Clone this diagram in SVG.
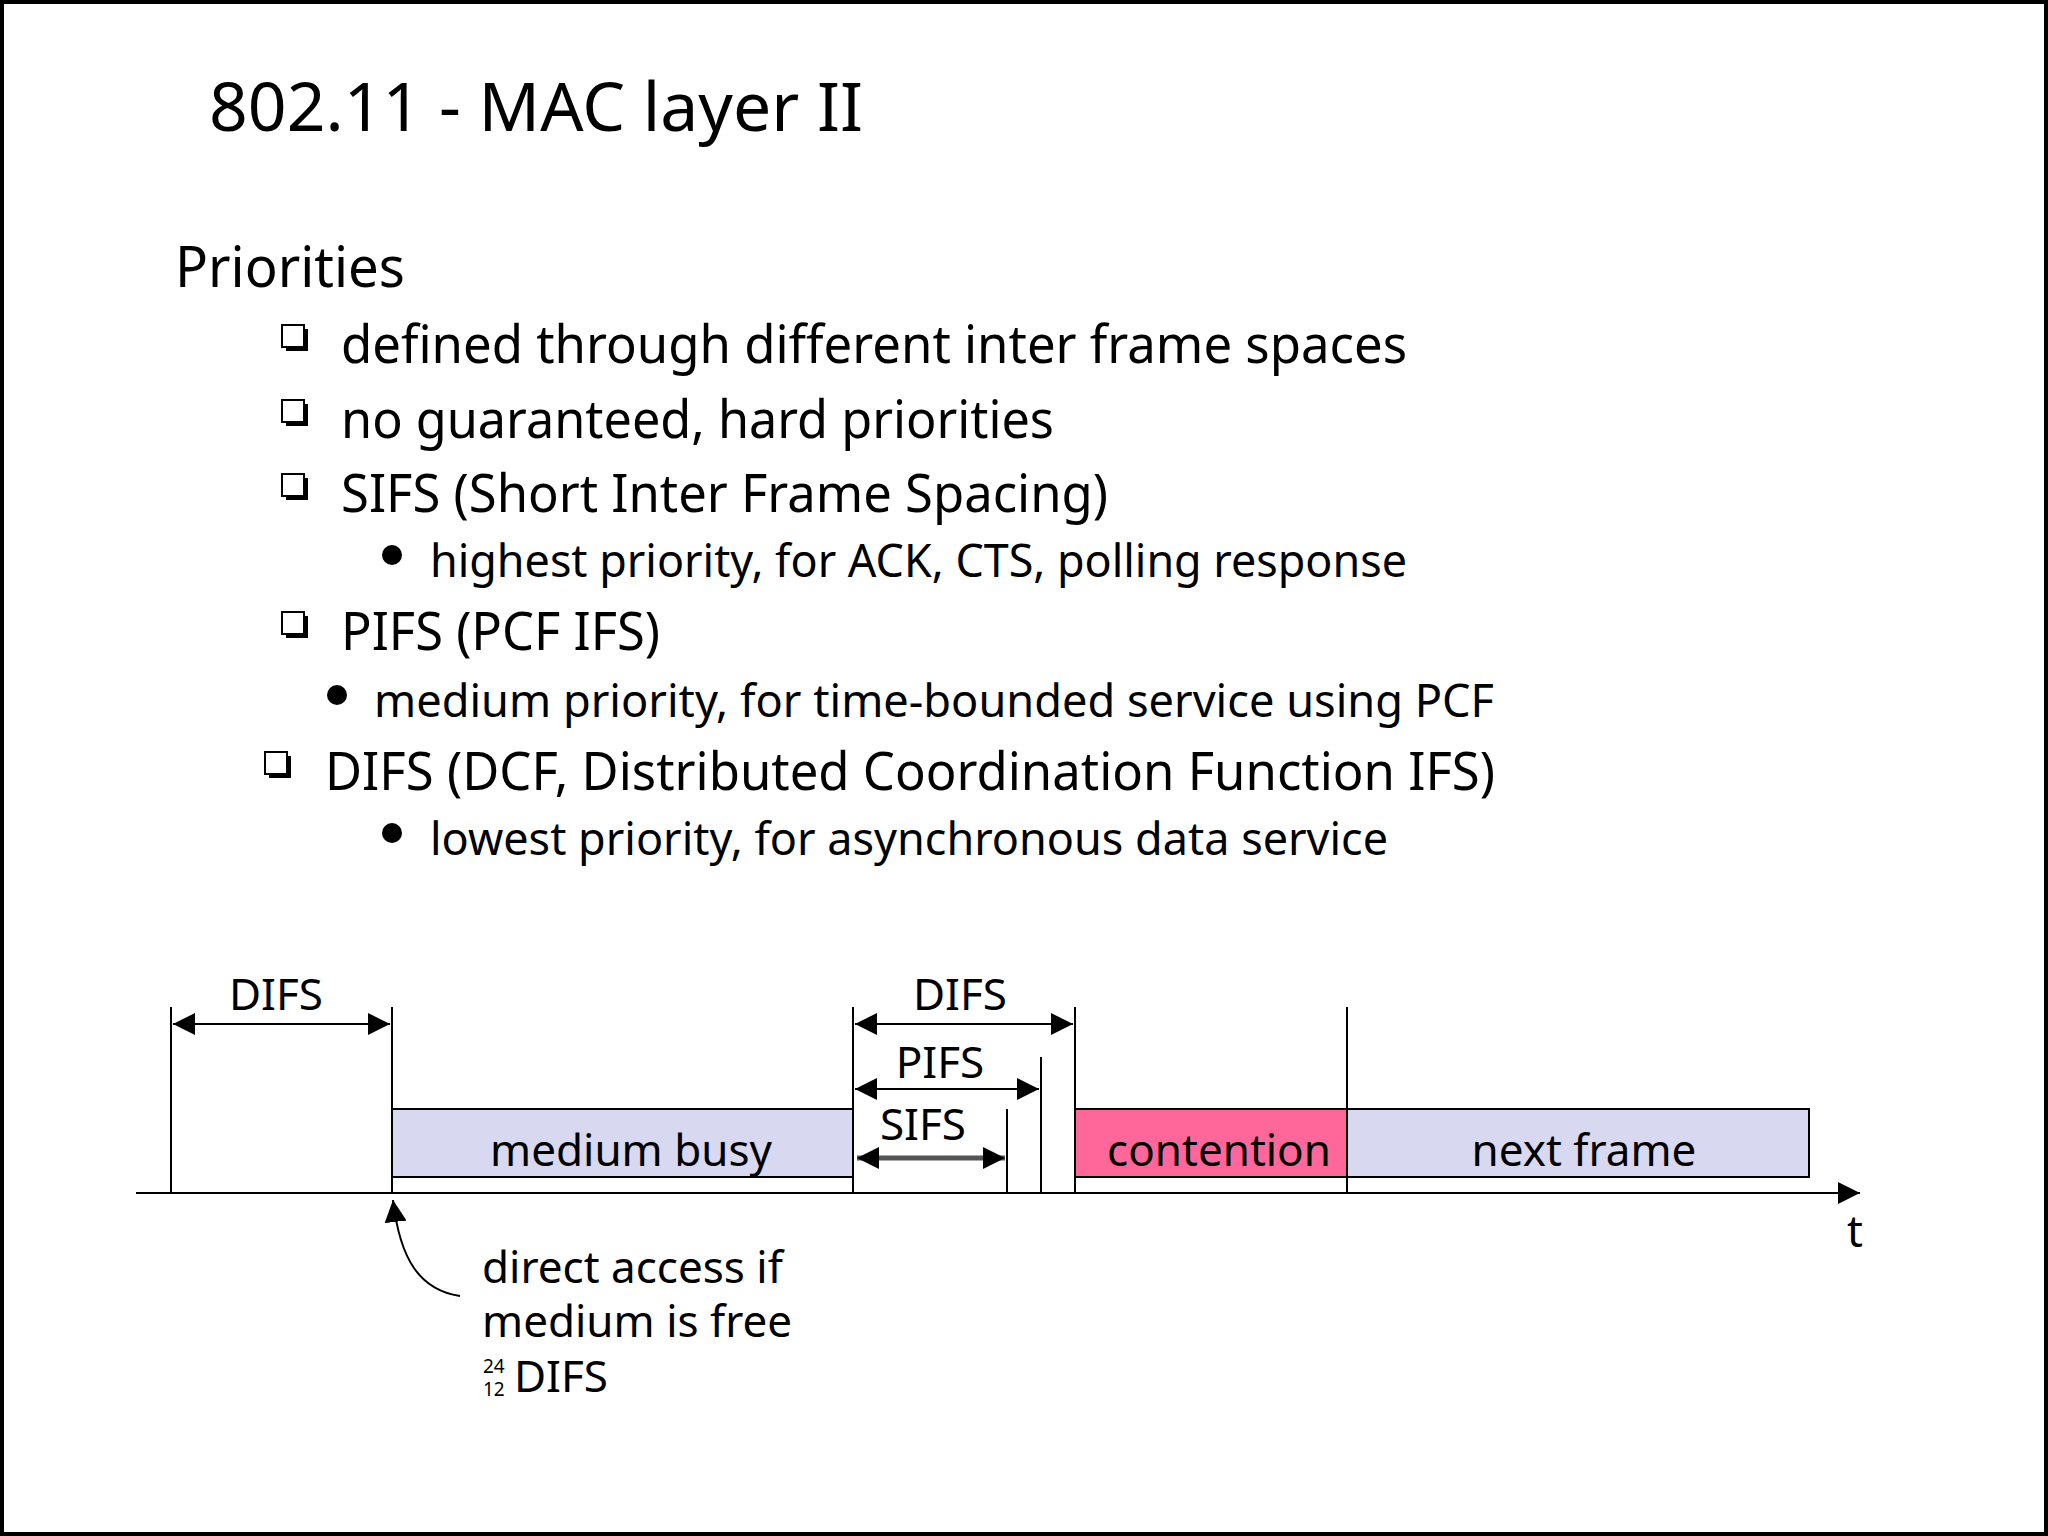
<svg xmlns="http://www.w3.org/2000/svg" width="2048" height="1536" viewBox="0 0 2048 1536">
<style>
text{font-family:"Noto Sans","Open Sans","DejaVu Sans",sans-serif;fill:#000}
.b{font-size:52px}.s{font-size:45px}.d{font-size:44px}
.ln{stroke:#000;stroke-width:2;fill:none}
.sq{fill:#fff;stroke:#000;stroke-width:2}
</style>
<defs>
<marker id="big" viewBox="0 0 10 10" refX="10" refY="5" markerWidth="22" markerHeight="22" orient="auto-start-reverse" markerUnits="userSpaceOnUse"><path d="M0,0L10,5L0,10z" fill="#000"/></marker>
<g id="sqb"><rect x="4" y="4" width="22" height="22" fill="#000"/><rect class="sq" x="0" y="0" width="22" height="22"/></g>
</defs>
<rect x="2" y="2" width="2044" height="1532" fill="#fff" stroke="#000" stroke-width="4"/>
<text x="209" y="131" font-size="68" textLength="654" lengthAdjust="spacingAndGlyphs">802.11 - MAC layer II</text>
<text x="175" y="287" font-size="56" textLength="230" lengthAdjust="spacingAndGlyphs">Priorities</text>
<g id="bullets">
<use href="#sqb" x="282" y="325"/>
<text class="b" x="341" y="363" textLength="1066" lengthAdjust="spacingAndGlyphs">defined through different inter frame spaces</text>
<use href="#sqb" x="282" y="400"/>
<text class="b" x="341" y="438" textLength="713" lengthAdjust="spacingAndGlyphs">no guaranteed, hard priorities</text>
<use href="#sqb" x="282" y="474"/>
<text class="b" x="341" y="512" textLength="767" lengthAdjust="spacingAndGlyphs">SIFS (Short Inter Frame Spacing)</text>
<circle cx="392" cy="555" r="10"/>
<text class="s" x="430" y="577" textLength="977" lengthAdjust="spacingAndGlyphs">highest priority, for ACK, CTS, polling response</text>
<use href="#sqb" x="282" y="612"/>
<text class="b" x="341" y="650" textLength="319" lengthAdjust="spacingAndGlyphs">PIFS (PCF IFS)</text>
<circle cx="337" cy="695" r="10"/>
<text class="s" x="374" y="717" textLength="1120" lengthAdjust="spacingAndGlyphs">medium priority, for time-bounded service using PCF</text>
<use href="#sqb" x="265" y="752"/>
<text class="b" x="325" y="790" textLength="1170" lengthAdjust="spacingAndGlyphs">DIFS (DCF, Distributed Coordination Function IFS)</text>
<circle cx="392" cy="833" r="10"/>
<text class="s" x="430" y="855" textLength="958" lengthAdjust="spacingAndGlyphs">lowest priority, for asynchronous data service</text>
</g>
<g id="medium-busy"><rect x="392" y="1109" width="461" height="68" fill="#d8d8f0" stroke="#000" stroke-width="2"/><text class="d" x="631" y="1166" text-anchor="middle">medium busy</text></g>
<g id="contention"><rect x="1075" y="1109" width="272" height="68" fill="#ff6699" stroke="#000" stroke-width="2"/><text class="d" x="1219" y="1166" text-anchor="middle">contention</text></g>
<g id="next-frame"><rect x="1347" y="1109" width="462" height="68" fill="#d8d8f0" stroke="#000" stroke-width="2"/><text class="d" x="1584" y="1166" text-anchor="middle">next frame</text></g>
<g id="connectors">
<line class="ln" x1="136" y1="1193" x2="1860" y2="1193" marker-end="url(#big)"/>
<line class="ln" x1="171" y1="1007" x2="171" y2="1193"/>
<line class="ln" x1="392" y1="1007" x2="392" y2="1193"/>
<line class="ln" x1="853" y1="1007" x2="853" y2="1193"/>
<line class="ln" x1="1007" y1="1109" x2="1007" y2="1193"/>
<line class="ln" x1="1041" y1="1057" x2="1041" y2="1193"/>
<line class="ln" x1="1075" y1="1007" x2="1075" y2="1193"/>
<line class="ln" x1="1347" y1="1007" x2="1347" y2="1193"/>
<line class="ln" x1="173" y1="1024" x2="390" y2="1024" marker-start="url(#big)" marker-end="url(#big)" stroke-width="3"/>
<line class="ln" x1="855" y1="1024" x2="1073" y2="1024" marker-start="url(#big)" marker-end="url(#big)" stroke-width="3"/>
<line class="ln" x1="855" y1="1089" x2="1039" y2="1089" marker-start="url(#big)" marker-end="url(#big)" stroke-width="3"/>
<line x1="857" y1="1158" x2="1005" y2="1158" stroke="#555" stroke-width="5" marker-start="url(#big)" marker-end="url(#big)"/>
<path class="ln" d="M460,1296 C420,1290 400,1260 393,1200" stroke-width="1.5" marker-end="url(#big)"/>
</g>
<g id="labels">
<text class="d" x="276" y="1010" text-anchor="middle">DIFS</text>
<text class="d" x="960" y="1010" text-anchor="middle">DIFS</text>
<text class="d" x="940" y="1078" text-anchor="middle">PIFS</text>
<text class="d" x="923" y="1140" text-anchor="middle">SIFS</text>
<text class="d" x="1855" y="1247" text-anchor="middle">t</text>
<text class="d" x="482" y="1283">direct access if</text>
<text class="d" x="482" y="1337">medium is free</text>
<text x="483" y="1373" font-size="19">24</text>
<text x="483" y="1396" font-size="19">12</text>
<text class="d" x="514" y="1392">DIFS</text>
</g>
</svg>
